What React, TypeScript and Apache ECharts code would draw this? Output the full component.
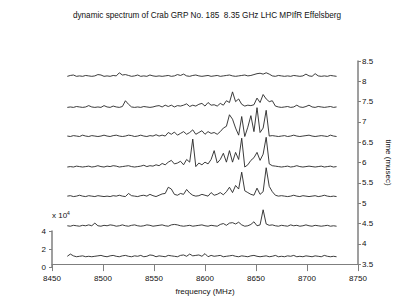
import React, { useEffect, useRef } from "react";
import * as echarts from "echarts";

// frequency channels (MHz)
const freqs = [
  8465, 8468, 8471, 8474, 8477, 8480, 8483, 8486, 8489, 8492,
  8495, 8498, 8501, 8504, 8507, 8510, 8513, 8516, 8519, 8522,
  8525, 8528, 8531, 8534, 8537, 8540, 8543, 8546, 8549, 8552,
  8555, 8558, 8561, 8564, 8567, 8570, 8573, 8576, 8579, 8582,
  8585, 8588, 8591, 8594, 8597, 8600, 8603, 8606, 8609, 8612,
  8615, 8618, 8621, 8624, 8627, 8630, 8633, 8636, 8639, 8642,
  8645, 8648, 8651, 8654, 8657, 8660, 8663, 8666, 8669, 8672,
  8675, 8678, 8681, 8684, 8687, 8690, 8693, 8696, 8699, 8702,
  8705, 8708, 8711, 8714, 8717, 8720, 8723, 8726, 8729,
];

// baseline of each spectrum, in units of 1e4 (left axis)
const baselines = [0.78, 4.22, 7.56, 10.89, 14.33, 17.61, 21.11];

// spectra (amplitude above baseline, units of 1e4), bottom to top
const spec1 = [
  0.1, 0.35, 0.15, 0.05, 0.1, 0.15, 0.05, 0.1, 0.05, 0.1,
  0.15, 0.2, 0.1, 0.05, 0.15, 0.2, 0.1, 0.05, 0.15, 0.2,
  0.1, 0.05, 0.15, 0.1, 0.2, 0.05, 0.1, 0.25, 0.2, 0.05,
  0.15, 0.1, 0.05, 0.2, 0.15, 0.1, 0.05, 0.2, 0.25, 0.1,
  0.35, 0.15, 0.2, 0.25, 0.1, 0.4, 0.05, 0.2, 0.1, 0.15,
  0.2, 0.05, 0.1, 0.15, 0.2, 0.1, 0.05, 0.15, 0.1, 0.05,
  0.15, 0.2, 0.1, 0.05, 0.1, 0.15, 0.05, 0.1, 0.2, 0.05,
  0.1, 0.05, 0.15, 0.1, 0.2, 0.05, 0.1, 0.05, 0.15, 0.1,
  0.05, 0.15, 0.1, 0.05, 0.2, 0.1, 0.05, 0.1, 0.05,
];
const spec2 = [
  0.1, 0.05, 0.15, 0.1, 0.05, 0.15, 0.1, 0.2, 0.1, 0.4,
  0.1, 0.05, 0.15, 0.1, 0.2, 0.15, 0.05, 0.1, 0.2, 0.1,
  0.05, 0.15, 0.2, 0.1, 0.05, 0.1, 0.2, 0.15, 0.05, 0.1,
  0.15, 0.2, 0.1, 0.05, 0.2, 0.25, 0.2, 0.1, 0.05, 0.1,
  0.15, 0.05, 0.1, 0.15, 0.2, 0.1, 0.05, 0.15, 0.1, 0.05,
  0.25, 0.35, 0.15, 0.4, 0.45, 0.3, 0.5, 0.2, 0.05, 0.1,
  0.25, 0.55, 0.1, 0.2, 1.9, 0.3, 0.15, 0.2, 0.1, 0.05,
  0.15, 0.1, 0.05, 0.2, 0.1, 0.15, 0.05, 0.1, 0.2, 0.1,
  0.05, 0.15, 0.1, 0.05, 0.1, 0.15, 0.05, 0.1, 0.05,
];
const spec3 = [
  0.1, 0.15, 0.05, 0.1, 0.2, 0.1, 0.05, 0.15, 0.1, 0.05,
  0.15, 0.1, 0.05, 0.1, 0.05, 0.15, 0.1, 0.2, 0.1, 0.05,
  0.4, 0.15, 0.1, 0.05, 0.15, 0.2, 0.1, 0.3, 0.15, 0.05,
  0.2, 0.35, 0.4, 1.1, 0.9, 0.3, 0.2, 0.4, 0.3, 0.85,
  0.45, 0.2, 0.1, 0.15, 0.3, 0.2, 0.1, 0.5, 0.2, 0.3,
  0.5, 0.25, 0.6, 1.1, 0.5, 1.3, 0.9, 2.8, 0.7, 0.5,
  0.3, 0.2, 1.0, 0.3, 0.6, 3.3, 1.2, 0.6, 0.2, 0.1,
  0.15, 0.1, 0.05, 0.1, 0.2, 0.1, 0.05, 0.15, 0.1, 0.05,
  0.1, 0.15, 0.05, 0.1, 0.2, 0.1, 0.05, 0.1, 0.05,
];
const spec4 = [
  0.05, 0.1, 0.05, 0.15, 0.1, 0.05, 0.1, 0.15, 0.05, 0.1,
  0.2, 0.1, 0.05, 0.15, 0.1, 0.2, 0.15, 0.05, 0.1, 0.15,
  0.2, 0.1, 0.05, 0.1, 0.15, 0.25, 0.1, 0.2, 0.15, 0.3,
  0.2, 0.45, 0.3, 0.6, 0.8, 0.4, 0.5, 0.7, 0.3, 0.9,
  0.6, 3.2, 0.1, 0.5, 0.3, 0.6, 0.4, 0.9, 1.9, 0.5,
  0.9, 1.6, 0.6, 1.9, 0.6, 1.7, 0.9, 3.3, 0.05, 0.3,
  0.8, 1.1, 1.7, 0.8, 1.5, 3.4, 0.4, 0.2, 0.15, 0.1,
  0.05, 0.1, 0.15, 0.05, 0.1, 0.2, 0.1, 0.05, 0.1, 0.15,
  0.1, 0.05, 0.1, 0.15, 0.05, 0.1, 0.15, 0.05, 0.1,
];
const spec5 = [
  0.1, 0.05, 0.15, 0.1, 0.05, 0.2, 0.1, 0.05, 0.15, 0.1,
  0.05, 0.1, 0.2, 0.1, 0.05, 0.15, 0.2, 0.1, 0.05, 0.1,
  0.2, 0.15, 0.05, 0.1, 0.2, 0.1, 0.05, 0.15, 0.1, 0.25,
  0.1, 0.2, 0.1, 0.5, 0.3, 0.55, 0.2, 0.4, 0.6, 0.3,
  0.5, 0.8, 0.3, 0.5, 0.7, 0.3, 0.6, 0.4, 0.5, 0.3,
  0.6, 1.0, 1.2, 2.5, 2.0, 1.0, 0.2, 2.3, 0.05, 1.1,
  2.4, 0.6, 3.3, 0.5, 1.0, 3.0, 0.1, 0.15, 0.1, 0.05,
  0.1, 0.15, 0.05, 0.1, 0.2, 0.1, 0.05, 0.1, 0.15, 0.2,
  0.1, 0.05, 0.1, 0.15, 0.1, 0.05, 0.2, 0.1, 0.05,
];
const spec6 = [
  0.05, 0.1, 0.05, 0.15, 0.1, 0.05, 0.1, 0.25, 0.1, 0.05,
  0.1, 0.05, 0.25, 0.1, 0.05, 0.2, 0.1, 0.05, 0.15, 0.8,
  0.4, 0.1, 0.05, 0.1, 0.05, 0.15, 0.1, 0.05, 0.1, 0.2,
  0.25, 0.1, 0.3, 0.15, 0.3, 0.1, 0.25, 0.2, 0.3, 0.45,
  0.15, 0.3, 0.2, 0.4, 0.5, 0.2, 0.6, 0.3, 0.35, 0.2,
  0.5, 0.3, 0.8, 0.6, 1.8, 0.7, 1.0, 0.4, 0.2, 0.3,
  0.25, 0.35, 1.1, 0.6, 1.5, 1.0, 0.7, 0.8, 0.2, 0.1,
  0.05, 0.1, 0.15, 0.05, 0.1, 0.3, 0.1, 0.05, 0.15, 0.3,
  0.1, 0.05, 0.15, 0.1, 0.05, 0.1, 0.15, 0.05, 0.1,
];
const spec7 = [
  0.05, 0.15, 0.2, 0.05, 0.1, 0.05, 0.15, 0.1, 0.05, 0.1,
  0.25, 0.2, 0.05, 0.1, 0.05, 0.15, 0.1, 0.45, 0.2, 0.25,
  0.15, 0.05, 0.1, 0.2, 0.05, 0.1, 0.05, 0.2, 0.1, 0.05,
  0.1, 0.05, 0.1, 0.15, 0.05, 0.1, 0.25, 0.15, 0.3, 0.1,
  0.05, 0.15, 0.2, 0.1, 0.05, 0.1, 0.15, 0.05, 0.1, 0.15,
  0.05, 0.1, 0.15, 0.2, 0.1, 0.05, 0.1, 0.15, 0.2, 0.1,
  0.15, 0.25, 0.35, 0.4, 0.3, 0.45, 0.3, 0.1, 0.05, 0.15,
  0.1, 0.05, 0.1, 0.05, 0.15, 0.1, 0.05, 0.1, 0.3, 0.1,
  0.05, 0.35, 0.1, 0.05, 0.1, 0.05, 0.15, 0.1, 0.05,
];
const spectra = [spec1, spec2, spec3, spec4, spec5, spec6, spec7];

const xTicks = { min: 8450, max: 8750, interval: 50 };
const timeTicks = { min: 3.5, max: 8.5, interval: 0.5 };
const ampTicks = { min: 0, max: 4, interval: 2 };

const FONT = "Liberation Sans, Arial, Helvetica, sans-serif";
const AXIS = "#7f7f7f";
const TXT = "#111111";

export default function App() {
  const ref = useRef<HTMLDivElement>(null);
  useEffect(() => {
    if (!ref.current) return;
    const chart = echarts.init(ref.current, undefined, { renderer: "svg" });
    // left amplitude axis: 9 px per 1e4 over the 206 px plot height
    const ampMax = (206 / 36) * ampTicks.max;
    const series = spectra.map((vals, k) => ({
      type: "line",
      xAxisIndex: 0,
      yAxisIndex: 0,
      showSymbol: false,
      symbol: "none",
      lineStyle: { color: "#262626", width: 0.9 },
      data: freqs.map((f, i) => [f, baselines[k] + vals[i]]),
    }));
    chart.setOption({
      animation: false,
      textStyle: { fontFamily: FONT },
      graphic: [
        {
          type: "text",
          x: 207,
          y: 15,
          style: {
            text: "dynamic spectrum of Crab GRP No. 185  8.35 GHz LHC MPIfR Effelsberg",
            align: "center",
            verticalAlign: "middle",
            fontSize: 8.2,
            fontFamily: FONT,
            fill: TXT,
          },
        },
        {
          type: "text",
          x: 52,
          y: 210,
          style: {
            text: "x 10{s|4}",
            rich: { s: { fontSize: 5, verticalAlign: "top", padding: [0, 0, 5, 0], fill: TXT, fontFamily: FONT } },
            fontSize: 8,
            fontFamily: FONT,
            fill: TXT,
          },
        },
      ],
      grid: [
        { left: 52, right: 41, top: 61, height: 206 },
        { left: 52, top: 231, height: 36, width: 307 },
      ],
      xAxis: [
        {
          gridIndex: 0,
          type: "value",
          min: xTicks.min,
          max: xTicks.max,
          interval: xTicks.interval,
          position: "bottom",
          splitLine: { show: false },
          axisLine: { lineStyle: { color: AXIS, width: 1.2 } },
          axisTick: { length: 7, lineStyle: { color: AXIS } },
          axisLabel: {
            fontSize: 8,
            color: TXT,
            margin: 10,
            fontFamily: FONT,
            formatter: (v: number) => String(v),
          },
          name: "frequency (MHz)",
          nameLocation: "middle",
          nameGap: 20,
          nameTextStyle: { fontSize: 8, color: TXT, fontFamily: FONT },
        },
        { gridIndex: 1, type: "value", show: false, min: 0, max: 1 },
      ],
      yAxis: [
        { gridIndex: 0, type: "value", min: 0, max: ampMax, show: false },
        {
          gridIndex: 0,
          type: "value",
          position: "right",
          min: timeTicks.min,
          max: timeTicks.max,
          interval: timeTicks.interval,
          splitLine: { show: false },
          axisLine: { show: true, lineStyle: { color: AXIS, width: 1.5 } },
          axisTick: { show: true, length: 3, lineStyle: { color: AXIS } },
          axisLabel: { fontSize: 8, color: TXT, margin: 4, fontFamily: FONT },
          name: "time (musec)",
          nameLocation: "middle",
          nameRotate: -90,
          nameGap: 26,
          nameTextStyle: { fontSize: 8, color: TXT, fontFamily: FONT },
        },
        {
          gridIndex: 1,
          type: "value",
          position: "left",
          min: ampTicks.min,
          max: ampTicks.max,
          interval: ampTicks.interval,
          splitLine: { show: false },
          axisLine: { show: true, lineStyle: { color: AXIS, width: 1.5 } },
          axisTick: { show: true, length: 3, lineStyle: { color: AXIS } },
          axisLabel: { fontSize: 8, color: TXT, margin: 6, fontFamily: FONT },
        },
      ],
      series,
    });
    return () => chart.dispose();
  }, []);
  return (
    <div
      ref={ref}
      style={{ position: "fixed", left: 0, top: 0, width: 400, height: 300, background: "#fff" }}
    />
  );
}
